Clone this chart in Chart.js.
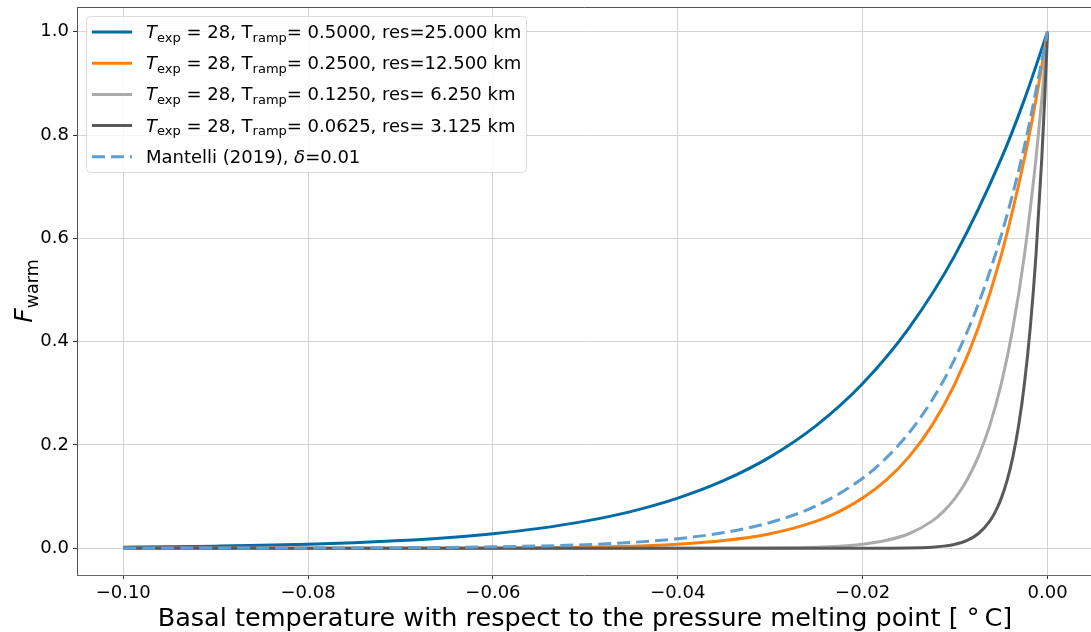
<!DOCTYPE html>
<html>
<head>
<meta charset="utf-8">
<script src="https://cdn.jsdelivr.net/npm/chart.js@4.4.1/dist/chart.umd.min.js"></script>
<style>
  html, body { margin: 0; padding: 0; background: #fff; }
  #wrap { width: 1091px; height: 632px; }
</style>
</head>
<body>
<div id="wrap"><canvas id="line-chart" width="1091" height="632"></canvas></div>
<script>
// values
const xBlue = [-0.1, -0.095, -0.09, -0.085, -0.08, -0.075, -0.07, -0.065, -0.06, -0.055, -0.05, -0.045, -0.04, -0.035, -0.03, -0.025, -0.02, -0.015, -0.01, -0.005, -0.0025, 0];
const yBlue = [0.0019, 0.0027, 0.0039, 0.0054, 0.0076, 0.0106, 0.0147, 0.0203, 0.0279, 0.0383, 0.0523, 0.0713, 0.0969, 0.1311, 0.1768, 0.2378, 0.3189, 0.4262, 0.568, 0.7547, 0.8691, 1.0];

const xOrange = [-0.1, -0.08, -0.06, -0.05, -0.045, -0.04, -0.035, -0.03, -0.025, -0.0225, -0.02, -0.0175, -0.015, -0.0125, -0.01, -0.0075, -0.005, -0.0025, -0.00125, 0];
const yOrange = [0, 0, 0.0005, 0.0019, 0.0039, 0.0076, 0.0147, 0.0279, 0.0523, 0.0713, 0.0969, 0.1311, 0.1768, 0.2378, 0.3189, 0.4262, 0.568, 0.7547, 0.8691, 1.0];

const xGray = [-0.1, -0.05, -0.04, -0.03, -0.025, -0.0225, -0.02, -0.0175, -0.015, -0.0125, -0.01125, -0.01, -0.00875, -0.0075, -0.00625, -0.005, -0.00375, -0.0025, -0.00125, -0.000625, 0];
const yGray = [0, 0, 0, 0.0005, 0.0019, 0.0039, 0.0076, 0.0147, 0.0279, 0.0523, 0.0713, 0.0969, 0.1311, 0.1768, 0.2378, 0.3189, 0.4262, 0.568, 0.7547, 0.8691, 1.0];

const xDark = [-0.1, -0.05, -0.03, -0.02, -0.015, -0.0125, -0.01125, -0.01, -0.00875, -0.0075, -0.00625, -0.005625, -0.005, -0.004375, -0.00375, -0.003125, -0.0025, -0.001875, -0.00125, -0.000625, -0.0003125, 0];
const yDark = [0, 0, 0, 0, 0.0005, 0.0019, 0.0039, 0.0076, 0.0147, 0.0279, 0.0523, 0.0713, 0.0969, 0.1311, 0.1768, 0.2378, 0.3189, 0.4262, 0.568, 0.7547, 0.8691, 1.0];

const xMantelli = [-0.1, -0.09, -0.08, -0.07, -0.06, -0.05, -0.045, -0.04, -0.035, -0.03, -0.025, -0.02, -0.0175, -0.015, -0.0125, -0.01, -0.0075, -0.005, -0.0025, 0];
const yMantelli = [0, 0.0001, 0.0003, 0.0009, 0.0025, 0.0067, 0.0111, 0.0183, 0.0302, 0.0498, 0.0821, 0.1353, 0.1738, 0.2231, 0.2865, 0.3679, 0.4724, 0.6065, 0.7788, 1.0];

const xTicks = [-0.10, -0.08, -0.06, -0.04, -0.02, 0.00];
const yTicks = [0.0, 0.2, 0.4, 0.6, 0.8, 1.0];

// legend rows: [text, style]  n = normal, i = italic, s = subscript
const legendRows = [
  { color: '#006BA4', dash: [], parts: [['T','i'],['exp','s'],[' = 28, T','n'],['ramp','s'],['= 0.5000, res=25.000 km','n']] },
  { color: '#FF800E', dash: [], parts: [['T','i'],['exp','s'],[' = 28, T','n'],['ramp','s'],['= 0.2500, res=12.500 km','n']] },
  { color: '#ABABAB', dash: [], parts: [['T','i'],['exp','s'],[' = 28, T','n'],['ramp','s'],['= 0.1250, res= 6.250 km','n']] },
  { color: '#595959', dash: [], parts: [['T','i'],['exp','s'],[' = 28, T','n'],['ramp','s'],['= 0.0625, res= 3.125 km','n']] },
  { color: '#5F9ED1', dash: [13, 6], parts: [['Mantelli (2019), ','n'],['\u03b4','i'],['=0.01','n']] }
];

const FONT = '"DejaVu Sans", sans-serif';

function pts(xs, ys) { return xs.map((x, i) => ({ x: x, y: ys[i] })); }

function fmtMinus(v, d) {
  const s = Math.abs(v).toFixed(d);
  return (v < -1e-9 ? '\u2212' : '') + s;
}

function drawParts(ctx, parts, x, y, size) {
  ctx.textBaseline = 'alphabetic';
  ctx.textAlign = 'left';
  parts.forEach(p => {
    if (p[1] === 's') {
      ctx.font = Math.round(size * 0.7) + 'px ' + FONT;
      ctx.fillText(p[0], x, y + size * 0.22);
    } else {
      ctx.font = (p[1] === 'i' ? 'italic ' : '') + size + 'px ' + FONT;
      ctx.fillText(p[0], x, y);
    }
    x += ctx.measureText(p[0]).width;
  });
  return x;
}

const extras = {
  id: 'extras',
  afterDatasetsDraw(chart) {
    const ctx = chart.ctx, a = chart.chartArea;
    ctx.save();
    // frame
    ctx.strokeStyle = '#555';
    ctx.lineWidth = 1;
    ctx.beginPath();
    ctx.moveTo(a.left + 0.5, a.bottom);
    ctx.lineTo(a.left + 0.5, a.top + 0.5);
    ctx.lineTo(a.right, a.top + 0.5);
    ctx.stroke();

    // legend box
    const bx = 86.5, by = 16.5, bw = 440, bh = 156, r = 4;
    ctx.beginPath();
    ctx.moveTo(bx + r, by);
    ctx.arcTo(bx + bw, by, bx + bw, by + bh, r);
    ctx.arcTo(bx + bw, by + bh, bx, by + bh, r);
    ctx.arcTo(bx, by + bh, bx, by, r);
    ctx.arcTo(bx, by, bx + bw, by, r);
    ctx.closePath();
    ctx.fillStyle = 'rgba(255,255,255,0.8)';
    ctx.fill();
    ctx.strokeStyle = '#dcdcdc';
    ctx.stroke();

    const rowY = [32, 63.2, 94.4, 125.5, 156.7];
    legendRows.forEach((row, i) => {
      const cy = rowY[i];
      ctx.strokeStyle = row.color;
      ctx.lineWidth = 3;
      ctx.setLineDash(row.dash);
      ctx.beginPath();
      ctx.moveTo(92, cy);
      ctx.lineTo(132, cy);
      ctx.stroke();
      ctx.setLineDash([]);
      ctx.fillStyle = '#000';
      drawParts(ctx, row.parts, 146, cy + 6, 18);
    });

    // y title  F_warm
    ctx.save();
    ctx.translate(32, 291);
    ctx.rotate(-Math.PI / 2);
    ctx.fillStyle = '#000';
    ctx.font = 'italic 25px ' + FONT;
    const wF = ctx.measureText('F').width;
    ctx.font = '17.5px ' + FONT;
    const wW = ctx.measureText('warm').width;
    drawParts(ctx, [['F','i']], -(wF + wW) / 2, 0, 25);
    ctx.font = '17.5px ' + FONT;
    ctx.fillText('warm', -(wF + wW) / 2 + wF, 5.5);
    ctx.restore();

    // x title
    ctx.fillStyle = '#000';
    ctx.font = '25.5px ' + FONT;
    ctx.textAlign = 'center';
    ctx.textBaseline = 'alphabetic';
    ctx.fillText('Basal temperature with respect to the pressure melting point [ \u00b0\u2009C]', 585, 626);
    ctx.restore();
  }
};

new Chart(document.getElementById('line-chart'), {
  type: 'line',
  data: {
    datasets: [
      { data: pts(xBlue, yBlue), borderColor: '#006BA4', order: 4 },
      { data: pts(xOrange, yOrange), borderColor: '#FF800E', order: 3 },
      { data: pts(xGray, yGray), borderColor: '#ABABAB', order: 2 },
      { data: pts(xDark, yDark), borderColor: '#595959', order: 1 },
      { data: pts(xMantelli, yMantelli), borderColor: '#5F9ED1', borderDash: [13, 6], order: 0 }
    ]
  },
  options: {
    responsive: false,
    animation: false,
    events: [],
    elements: {
      point: { radius: 0 },
      line: { borderWidth: 3, cubicInterpolationMode: 'monotone', fill: false }
    },
    layout: { padding: { top: 7, left: 0, right: 0, bottom: 0 } },
    plugins: { legend: { display: false }, tooltip: { enabled: false } },
    scales: {
      x: {
        type: 'linear',
        min: -0.105,
        max: 0.0047,
        afterBuildTicks: s => { s.ticks = xTicks.map(v => ({ value: v })); },
        afterFit: s => { s.height = 57; s.paddingLeft = 0; s.paddingRight = 0; },
        grid: { color: '#d3d3d3', tickColor: '#333', tickLength: 4 },
        border: { color: '#666', width: 1 },
        ticks: {
          color: '#000', padding: 4, maxRotation: 0,
          font: { family: FONT, size: 18 },
          callback: v => fmtMinus(v, 2)
        }
      },
      y: {
        min: -0.052,
        max: 1.048,
        afterBuildTicks: s => { s.ticks = yTicks.map(v => ({ value: v })); },
        afterFit: s => { s.width = 77; s.paddingTop = 0; s.paddingBottom = 0; },
        grid: { color: '#d3d3d3', tickColor: '#333', tickLength: 4 },
        border: { color: '#666', width: 1 },
        ticks: {
          color: '#000', padding: 4,
          font: { family: FONT, size: 18 },
          callback: v => v.toFixed(1)
        }
      }
    }
  },
  plugins: [extras]
});
</script>
</body>
</html>
